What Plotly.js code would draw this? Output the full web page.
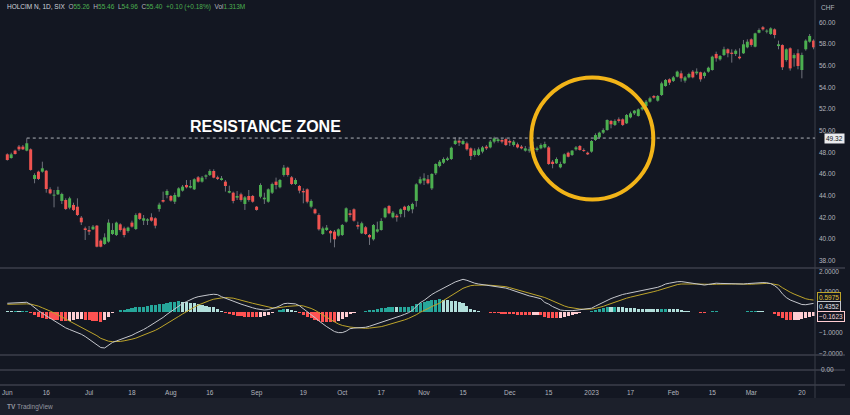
<!DOCTYPE html>
<html>
<head>
<meta charset="utf-8">
<script src="https://cdn.plot.ly/plotly-3.0.1.min.js"></script>
<style>
html,body{margin:0;padding:0;background:#131722;}
#chart{width:850px;height:415px;}
</style>
</head>
<body>
<div id="chart"></div>
<script>
// ---- DATA (daily candles, HOLCIM N, SIX, Jun 2022 – Mar 2023) ----
const openP = [47.82,47.48,48.16,48.53,48.53,48.16,48.28,45.55,46.22,46.22,46.31,44.59,44.01,44.13,43.52,43.61,42.90,43.15,42.99,41.98,
40.99,40.84,40.90,41.24,39.86,39.55,39.77,40.47,40.38,41.36,40.99,40.75,41.52,40.93,42.38,41.70,41.70,42.01,41.92,42.78,
43.61,44.07,43.98,43.45,43.91,44.47,44.99,44.75,44.59,45.70,45.30,45.76,45.91,46.28,45.70,45.45,45.30,44.28,44.28,43.82,
44.13,43.24,43.98,43.98,42.99,43.91,43.67,43.45,44.28,45.30,44.78,45.91,46.59,45.70,45.08,44.90,44.44,44.59,42.99,42.75,
42.22,40.47,40.84,40.75,40.69,40.32,40.38,41.61,42.38,42.75,41.30,40.53,41.09,40.38,39.98,40.69,40.84,42.01,43.05,42.01,
42.16,42.32,42.99,42.62,42.75,43.52,45.15,45.39,45.52,44.68,46.07,46.74,47.05,47.30,47.39,48.77,49.08,48.77,48.83,48.37,
47.76,47.76,48.07,48.53,48.46,48.99,49.05,49.14,49.23,49.05,48.68,48.74,48.53,48.16,48.16,48.43,48.22,48.37,48.46,48.46,
47.14,46.99,46.62,46.99,47.97,47.76,48.28,48.59,48.22,47.97,48.07,49.14,49.39,49.82,50.06,50.90,50.53,51.05,51.05,50.68,
51.23,51.60,51.36,51.97,52.28,52.68,53.20,52.77,53.29,54.12,54.74,54.59,54.98,55.29,54.62,54.92,55.45,55.29,55.39,55.05,
55.45,55.60,57.08,56.58,56.98,57.51,57.20,57.08,56.83,57.14,57.69,58.43,57.75,59.04,59.54,59.14,58.92,59.35,57.81,57.90,
56.52,57.60,56.68,57.14,55.60,57.51,58.21,58.31];
const highP = [47.91,47.97,48.25,48.68,48.68,49.30,48.37,46.07,46.31,47.14,46.38,44.78,44.53,44.84,44.28,43.76,43.91,43.36,43.76,42.13,
41.15,41.21,41.30,41.30,39.98,40.53,41.82,41.46,41.61,41.46,41.15,41.15,41.70,42.38,42.44,42.22,41.92,42.38,42.01,43.36,
44.38,44.59,44.07,44.28,44.78,44.99,45.45,45.45,45.61,45.82,45.82,45.97,46.44,46.44,45.85,45.82,45.45,44.93,44.38,44.44,
44.28,43.98,44.53,44.07,43.05,45.15,44.28,44.68,45.21,45.67,45.55,46.84,46.68,45.82,45.61,44.99,44.68,44.68,43.67,42.84,
42.38,41.15,41.30,40.84,40.84,40.99,41.39,42.93,42.69,42.84,41.61,41.61,41.21,40.47,41.39,41.61,41.92,42.93,43.15,42.59,
42.32,42.84,43.08,43.15,43.36,45.15,45.76,46.07,45.91,46.07,46.99,47.30,47.54,47.60,48.53,49.39,49.39,49.20,48.99,48.46,
48.37,48.46,48.59,48.68,49.14,49.45,49.36,49.27,49.36,49.20,49.14,48.90,48.68,48.59,48.53,48.99,48.53,48.83,48.99,48.59,
47.30,47.54,47.14,47.91,48.07,48.22,48.59,48.68,48.37,48.07,49.14,49.76,49.91,50.22,51.05,50.99,51.05,51.23,51.14,51.54,
51.76,51.91,52.06,52.25,52.83,53.14,53.29,53.29,54.52,54.77,54.83,55.05,55.54,55.54,55.05,55.35,55.60,55.75,55.45,55.45,
55.91,56.92,57.29,56.98,57.75,57.60,57.51,57.51,57.60,58.37,58.43,58.52,59.04,59.44,59.66,59.35,59.54,59.44,58.31,57.97,
57.60,57.69,57.14,57.51,57.20,58.43,58.92,58.43];
const lowP = [47.24,47.42,47.80,48.13,48.22,48.10,46.31,45.15,45.45,46.13,44.28,44.13,42.93,44.07,43.24,42.69,42.75,42.59,42.13,41.30,
39.92,40.38,40.84,39.24,39.24,39.46,39.67,40.38,40.29,40.69,40.16,40.59,41.06,40.84,41.76,41.30,41.30,41.61,40.99,42.53,
43.36,43.76,43.45,43.24,43.85,44.38,44.68,44.68,44.53,45.21,45.21,45.52,45.82,45.61,45.45,45.39,44.38,44.22,43.30,43.61,
43.45,42.69,43.45,43.36,42.62,43.76,43.24,43.36,44.16,44.59,44.68,45.76,45.76,44.99,44.99,44.22,43.30,43.30,42.84,42.29,
40.78,40.38,40.75,39.67,39.24,40.23,40.29,41.52,42.01,41.61,40.90,40.47,40.38,39.46,39.86,40.59,40.78,41.92,42.29,41.92,
41.61,42.01,42.01,42.53,42.38,42.99,45.05,44.99,45.05,44.53,45.91,46.62,46.93,47.20,47.30,48.68,48.59,48.68,48.16,47.30,
47.60,47.67,47.91,48.22,48.37,48.83,48.90,48.83,48.59,48.59,48.53,48.37,48.28,48.07,47.97,48.07,48.07,48.28,48.37,46.84,
46.53,46.93,46.53,46.93,47.54,47.67,48.16,48.16,48.04,47.76,47.97,49.05,49.27,49.70,50.00,50.22,50.43,50.74,50.43,50.62,
51.14,51.45,51.30,51.85,52.16,52.59,52.95,52.68,53.20,54.06,54.22,54.49,54.92,54.52,54.43,54.83,54.83,55.14,54.52,54.83,
55.35,55.54,56.37,56.46,56.89,56.77,56.28,56.89,56.58,57.08,57.60,57.75,57.69,58.98,59.23,58.98,58.83,58.52,57.51,55.60,
56.37,55.54,55.91,55.66,54.83,57.38,58.12,57.51];
const closeP = [47.30,47.82,47.85,48.28,48.28,48.84,46.38,45.91,45.55,46.53,44.62,44.22,44.10,44.53,44.16,42.78,43.76,42.69,42.22,41.55,
40.84,40.69,41.15,39.30,39.30,40.16,41.52,40.84,41.52,40.84,40.38,41.06,41.15,42.22,41.86,41.92,41.82,41.70,41.24,43.18,
43.45,44.44,43.55,44.07,44.68,44.84,44.78,44.90,45.52,45.30,45.67,45.88,46.28,45.67,45.55,45.61,44.90,44.44,43.52,43.98,
43.61,43.85,43.61,43.45,42.69,44.99,43.82,44.59,45.08,44.99,45.45,46.59,45.91,45.08,45.45,44.47,44.31,43.45,43.52,42.38,
40.90,40.99,41.06,40.53,39.98,40.90,41.30,42.84,42.22,41.70,41.15,41.46,40.47,40.16,41.30,40.90,41.67,42.84,42.38,42.44,
42.01,42.75,42.69,43.05,43.24,45.05,45.52,45.61,45.15,46.01,46.93,47.14,47.39,47.45,48.43,49.08,48.90,49.05,48.28,47.67,
48.16,48.28,48.46,48.37,48.99,49.30,49.20,48.99,48.68,48.90,48.99,48.46,48.37,48.37,48.28,48.28,48.37,48.68,48.77,46.93,
46.93,47.39,46.93,47.82,47.60,48.16,48.46,48.22,48.13,47.82,49.05,49.60,49.82,50.06,50.99,50.59,50.90,50.90,50.53,51.45,
51.60,51.85,51.97,52.15,52.68,52.99,53.05,53.20,54.37,54.68,54.43,54.92,55.45,54.83,54.92,55.23,54.92,55.45,54.74,55.35,
55.81,56.83,56.68,56.89,57.51,57.14,57.08,57.38,56.68,57.97,58.21,57.91,58.98,59.29,59.35,59.23,59.44,58.83,57.97,55.85,
57.51,55.75,56.98,55.97,56.98,58.31,58.74,57.69];

// MACD (12,26,9) panel values
const macdLine = [0.44,0.45,0.46,0.47,0.48,0.49,0.38,0.22,0.08,-0.05,-0.17,-0.28,-0.40,-0.52,-0.64,-0.76,-0.84,-0.91,-0.98,-1.07,
-1.18,-1.32,-1.45,-1.58,-1.72,-1.74,-1.62,-1.47,-1.40,-1.33,-1.29,-1.22,-1.12,-1.02,-0.94,-0.84,-0.73,-0.62,-0.51,-0.38,
-0.25,-0.10,0.04,0.18,0.33,0.43,0.52,0.62,0.70,0.76,0.80,0.84,0.86,0.88,0.86,0.76,0.68,0.62,0.55,0.47,
0.40,0.34,0.27,0.22,0.17,0.13,0.11,0.13,0.18,0.24,0.32,0.42,0.44,0.42,0.41,0.32,0.18,0.05,-0.09,-0.26,
-0.42,-0.58,-0.70,-0.82,-0.94,-0.99,-0.99,-0.92,-0.80,-0.77,-0.76,-0.75,-0.73,-0.68,-0.62,-0.56,-0.48,-0.42,-0.36,-0.30,
-0.25,-0.17,-0.10,-0.02,0.10,0.28,0.47,0.58,0.74,0.87,0.98,1.09,1.19,1.28,1.38,1.48,1.56,1.61,1.56,1.48,
1.42,1.38,1.35,1.33,1.31,1.29,1.26,1.22,1.18,1.12,1.05,0.98,0.91,0.86,0.80,0.76,0.71,0.66,0.48,0.40,
0.28,0.18,0.11,0.09,0.08,0.08,0.10,0.12,0.15,0.17,0.20,0.30,0.40,0.50,0.60,0.67,0.74,0.82,0.87,0.91,
0.95,0.98,1.01,1.05,1.09,1.13,1.17,1.22,1.29,1.38,1.42,1.46,1.49,1.50,1.47,1.44,1.41,1.38,1.35,1.33,
1.36,1.40,1.42,1.41,1.40,1.39,1.38,1.38,1.38,1.38,1.40,1.42,1.44,1.45,1.45,1.44,1.40,1.30,1.15,0.90,
0.72,0.60,0.52,0.45,0.38,0.37,0.41,0.4352];
const signalLine = [0.39,0.40,0.40,0.41,0.41,0.41,0.40,0.36,0.30,0.22,0.15,0.06,-0.03,-0.12,-0.22,-0.33,-0.43,-0.53,-0.63,-0.73,
-0.82,-0.92,-1.03,-1.14,-1.27,-1.36,-1.41,-1.43,-1.43,-1.42,-1.39,-1.36,-1.31,-1.26,-1.19,-1.12,-1.05,-0.96,-0.88,-0.78,
-0.67,-0.56,-0.44,-0.32,-0.20,-0.08,0.04,0.15,0.25,0.35,0.44,0.52,0.58,0.64,0.68,0.70,0.72,0.71,0.69,0.64,
0.60,0.55,0.49,0.44,0.39,0.34,0.29,0.25,0.22,0.21,0.22,0.26,0.29,0.31,0.33,0.33,0.31,0.26,0.19,0.10,
0.00,-0.13,-0.24,-0.36,-0.48,-0.57,-0.64,-0.69,-0.72,-0.74,-0.76,-0.77,-0.78,-0.77,-0.75,-0.73,-0.70,-0.65,-0.60,-0.55,
-0.49,-0.43,-0.37,-0.30,-0.22,-0.12,0.00,0.08,0.18,0.28,0.37,0.45,0.58,0.70,0.82,0.95,1.07,1.17,1.24,1.30,
1.32,1.33,1.33,1.33,1.32,1.31,1.30,1.28,1.25,1.20,1.15,1.10,1.05,1.00,0.94,0.88,0.82,0.78,0.72,0.64,
0.55,0.46,0.38,0.31,0.25,0.21,0.18,0.16,0.15,0.15,0.16,0.19,0.23,0.29,0.36,0.43,0.49,0.57,0.63,0.69,
0.74,0.78,0.83,0.88,0.93,0.97,1.01,1.06,1.12,1.20,1.25,1.30,1.35,1.38,1.39,1.39,1.38,1.38,1.37,1.35,
1.35,1.36,1.37,1.38,1.38,1.38,1.38,1.38,1.37,1.36,1.36,1.37,1.38,1.40,1.41,1.41,1.40,1.38,1.33,1.20,
1.08,0.98,0.89,0.81,0.72,0.66,0.62,0.5975];
const histVals = [0.05,0.05,0.06,0.06,0.07,0.08,-0.02,-0.14,-0.22,-0.27,-0.32,-0.34,-0.37,-0.40,-0.42,-0.43,-0.41,-0.38,-0.35,-0.34,
-0.36,-0.40,-0.42,-0.44,-0.45,-0.38,-0.21,-0.04,0.03,0.09,0.10,0.14,0.19,0.24,0.25,0.28,0.32,0.34,0.37,0.40,
0.42,0.46,0.48,0.50,0.53,0.51,0.48,0.47,0.45,0.41,0.36,0.32,0.28,0.24,0.18,0.06,-0.04,-0.09,-0.14,-0.17,
-0.20,-0.21,-0.22,-0.22,-0.22,-0.21,-0.18,-0.12,-0.04,0.03,0.10,0.16,0.15,0.11,0.08,-0.01,-0.13,-0.21,-0.28,-0.36,
-0.42,-0.45,-0.46,-0.46,-0.46,-0.42,-0.35,-0.23,-0.08,-0.03,0.00,0.02,0.05,0.09,0.13,0.17,0.22,0.23,0.24,0.25,
0.24,0.26,0.27,0.28,0.32,0.40,0.47,0.50,0.56,0.59,0.61,0.64,0.61,0.58,0.56,0.53,0.49,0.44,0.32,0.18,
0.10,0.05,0.02,0.00,-0.01,-0.02,-0.04,-0.06,-0.07,-0.08,-0.10,-0.12,-0.14,-0.14,-0.14,-0.12,-0.11,-0.12,-0.24,-0.26,
-0.29,-0.30,-0.28,-0.22,-0.17,-0.13,-0.08,-0.04,0.00,0.02,0.04,0.11,0.17,0.21,0.24,0.24,0.25,0.25,0.24,0.22,
0.21,0.20,0.18,0.17,0.16,0.16,0.16,0.16,0.17,0.18,0.17,0.16,0.14,0.12,0.08,0.05,0.03,0.00,-0.02,-0.02,
0.01,0.04,0.05,0.03,0.02,0.01,0.00,0.00,0.01,0.02,0.04,0.05,0.06,0.05,0.04,0.03,0.00,-0.08,-0.18,-0.30,
-0.36,-0.38,-0.37,-0.36,-0.34,-0.29,-0.21,-0.1623];

// x-axis labels (trading-day index of each labelled date)
const tickIdx  = [0,10,21,32,42,52,64,76,86,96,107,117,129,139,150,160,171,181,191,204];
const tickText = ['Jun','16','Jul','18','Aug','16','Sep','19','Oct','17','Nov','15','Dec','15','2023','17','Feb','15','Mar','20'];
const priceTicks = [38,40,42,44,46,48,50,52,54,56,58,60];
const resistance = 49.32;

// ---- BUILD ----
const N = closeP.length;
const idx = [], wx = [], wy = [], upX = [], upY = [], dnX = [], dnY = [], histCol = [];
for (let i = 0; i < N; i++) {
  idx.push(i);
  wx.push(i, i, null); wy.push(lowP[i], highP[i], null);
  let a = Math.min(openP[i], closeP[i]), b = Math.max(openP[i], closeP[i]);
  if (b - a < 0.09) { const m = (a + b) / 2; a = m - 0.045; b = m + 0.045; }
  if (closeP[i] >= openP[i]) { upX.push(i, i, null); upY.push(a, b, null); }
  else { dnX.push(i, i, null); dnY.push(a, b, null); }
  const h = histVals[i], p = i > 0 ? histVals[i - 1] : h;
  if (h >= 0) histCol.push(h > p ? '#26a69a' : '#b2dfdb');
  else histCol.push(h > p ? '#ffcdd2' : '#ff5252');
}

const FONT = 'Liberation Sans, Arial, sans-serif';
const LBL = '#b2b5be';
const SEP = '#50535e';

const traces = [
  {type:'bar', x:idx, y:histVals, xaxis:'x', yaxis:'y2', width:0.8,
   marker:{color:histCol, line:{width:0}}, hoverinfo:'skip', showlegend:false},
  {type:'scatter', mode:'lines', x:wx, y:wy, xaxis:'x', yaxis:'y',
   line:{color:'#6f727c', width:1}, hoverinfo:'skip', showlegend:false},
  {type:'scatter', mode:'lines', x:upX, y:upY, xaxis:'x', yaxis:'y',
   line:{color:'#4caf50', width:3}, hoverinfo:'skip', showlegend:false},
  {type:'scatter', mode:'lines', x:dnX, y:dnY, xaxis:'x', yaxis:'y',
   line:{color:'#ef5350', width:3}, hoverinfo:'skip', showlegend:false},
  {type:'scatter', mode:'lines', x:idx, y:signalLine, xaxis:'x', yaxis:'y2',
   line:{color:'#bda42a', width:1}, hoverinfo:'skip', showlegend:false},
  {type:'scatter', mode:'lines', x:idx, y:macdLine, xaxis:'x', yaxis:'y2',
   line:{color:'#c4c6cc', width:1}, hoverinfo:'skip', showlegend:false}
];

const PW = 815; // plot width in px
const PH = 385; // plot height in px
const px = v => v / PW;
const py = v => (PH - v) / PH;

const hdr = '<span style="color:#d1d4dc">HOLCIM N, 1D, SIX</span>  ' +
  'O<span style="color:#4caf50">55.26</span>  H<span style="color:#4caf50">55.46</span>  ' +
  'L<span style="color:#4caf50">54.96</span>  C<span style="color:#4caf50">55.40</span>  ' +
  '<span style="color:#4caf50">+0.10 (+0.18%)</span>  Vol<span style="color:#4caf50">1.313M</span>';

const layout = {
  width:850, height:415,
  margin:{l:0, r:35, t:0, b:30, pad:0},
  paper_bgcolor:'#131722', plot_bgcolor:'#131722',
  barmode:'overlay', bargap:0, showlegend:false,
  font:{family:FONT, color:LBL, size:6.5},
  xaxis:{range:[-1.874, 207.37], anchor:'free', position:0, showgrid:false, zeroline:false, showline:false,
    tickmode:'array', tickvals:tickIdx, ticktext:tickText, ticks:'',
    tickfont:{size:6.5, color:LBL, family:FONT}, ticklabelstandoff:2, fixedrange:true},
  yaxis:{domain:[0.3039, 1], range:[37.334, 62.057], side:'right', anchor:'x',
    showgrid:false, zeroline:false, showline:false, ticks:'',
    tickmode:'array', tickvals:priceTicks, ticktext:priceTicks.map(v => v.toFixed(2)),
    tickfont:{size:6.5, color:LBL, family:FONT}, ticklabelstandoff:3},
  yaxis2:{domain:[0.07792, 0.3039], range:[-2.083, 2.161], side:'right', anchor:'x',
    showgrid:false, zeroline:false, showline:false, ticks:'',
    tickmode:'array', tickvals:[2,1,-1,-2], ticktext:['2.0000','1.0000','\u22121.0000','\u22122.0000'],
    tickfont:{size:6.5, color:LBL, family:FONT}, ticklabelstandoff:3},
  shapes:[
    // bottom strip
    {type:'rect', xref:'paper', yref:'paper', x0:0, x1:px(850), y0:py(415), y1:py(398),
     fillcolor:'#1c202b', line:{width:0}, layer:'below'},
    // pane separators
    {type:'line', xref:'paper', yref:'paper', x0:0, x1:px(845), y0:py(268), y1:py(268), line:{color:SEP, width:1}},
    {type:'line', xref:'paper', yref:'paper', x0:0, x1:px(845), y0:py(355), y1:py(355), line:{color:SEP, width:1}},
    {type:'line', xref:'paper', yref:'paper', x0:0, x1:px(845), y0:py(370), y1:py(370), line:{color:SEP, width:1}},
    {type:'line', xref:'paper', yref:'paper', x0:0, x1:px(845), y0:py(385), y1:py(385), line:{color:SEP, width:1}},
    // price scale border
    {type:'line', xref:'paper', yref:'paper', x0:1, x1:1, y0:py(398), y1:1, line:{color:'#3a3e49', width:1}},
    // resistance line
    {type:'line', xref:'x', yref:'y', x0:5, x1:207.37, y0:resistance, y1:resistance,
     line:{color:'#aeb1b9', width:1, dash:'3px,3px'}},
    // highlight circle
    {type:'circle', xref:'x', yref:'y', xsizemode:'pixel', ysizemode:'pixel',
     xanchor:150.2, yanchor:49.28, x0:-61, x1:61, y0:-61, y1:61,
     line:{color:'#f2b418', width:4}}
  ],
  annotations:[
    {xref:'x', yref:'y', x:66.3, y:50.37, text:'<b>RESISTANCE ZONE</b>', showarrow:false,
     font:{family:FONT, size:16, color:'#ffffff'}, xanchor:'center', yanchor:'middle'},
    {xref:'paper', yref:'paper', x:px(5), y:py(7), text:hdr, showarrow:false, xanchor:'left', yanchor:'middle',
     font:{family:FONT, size:6.5, color:'#b2b5be'}},
    {xref:'paper', yref:'paper', x:px(819), y:py(7), text:'CHF', showarrow:false, xanchor:'left', yanchor:'middle',
     font:{family:FONT, size:6.5, color:LBL}},
    {xref:'paper', yref:'y', x:px(824), y:resistance, text:'49.32', showarrow:false, xanchor:'left', yanchor:'middle',
     bgcolor:'#e9eaed', borderpad:1, font:{family:FONT, size:6.5, color:'#131722'}},
    {xref:'paper', yref:'paper', x:px(817), y:py(297.8), text:'0.5975', showarrow:false, xanchor:'left', yanchor:'middle',
     bgcolor:'#131722', bordercolor:'#bda42a', borderwidth:1, borderpad:1, font:{family:FONT, size:6.5, color:'#e3c83a'}},
    {xref:'paper', yref:'paper', x:px(817), y:py(306.3), text:'0.4352', showarrow:false, xanchor:'left', yanchor:'middle',
     bgcolor:'#131722', bordercolor:'#c4c6cc', borderwidth:1, borderpad:1, font:{family:FONT, size:6.5, color:'#e6e7ea'}},
    {xref:'paper', yref:'paper', x:px(817), y:py(316), text:'\u22120.1623', showarrow:false, xanchor:'left', yanchor:'middle',
     bgcolor:'#131722', bordercolor:'#ffcdd2', borderwidth:1, borderpad:1, font:{family:FONT, size:6.5, color:'#f2d6d9'}},
    {xref:'paper', yref:'paper', x:px(819), y:py(369.5), text:'0.00', showarrow:false, xanchor:'left', yanchor:'middle',
     font:{family:FONT, size:6.5, color:LBL}},
    {xref:'paper', yref:'paper', x:px(5), y:py(407), text:'<b>TV</b> TradingView', showarrow:false, xanchor:'left', yanchor:'middle',
     font:{family:FONT, size:6.5, color:'#9598a1'}}
  ]
};

Plotly.newPlot('chart', traces, layout, {displayModeBar:false, staticPlot:true, responsive:false});
</script>
</body>
</html>
